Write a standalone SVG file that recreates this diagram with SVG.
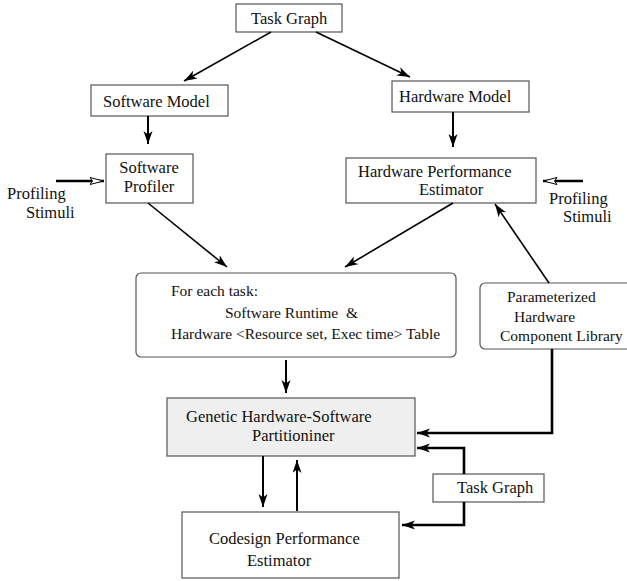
<svg xmlns="http://www.w3.org/2000/svg" width="627" height="581" viewBox="0 0 627 581">
<style>
text{font-family:"Liberation Serif","Times New Roman",serif;font-size:16.5px;fill:#111;white-space:pre}
.s{font-size:15.5px}
.box{fill:#fff;stroke:#555;stroke-width:1.2}
.gray{fill:#efefef;stroke:#555;stroke-width:1.2}
.thin{fill:none;stroke:#000;stroke-width:1.6}
.mid{fill:none;stroke:#000;stroke-width:2}
.thick{fill:none;stroke:#000;stroke-width:2.6}
</style>
<defs>
<marker id="ah" markerUnits="userSpaceOnUse" markerWidth="14" markerHeight="10" refX="13" refY="4.5" orient="auto">
<path d="M0,0 L13,4.5 L0,9 L3.5,4.5 z" fill="#000"/>
</marker>
<marker id="ao" markerUnits="userSpaceOnUse" markerWidth="16" markerHeight="10" refX="14.5" refY="4" orient="auto">
<path d="M0.5,0.5 L14,4 L0.5,7.5 L3,4 z" fill="#fff" stroke="#000" stroke-width="1"/>
</marker>
</defs>

<g id="taskgraph-top">
<rect class="box" x="236" y="4" width="106" height="28"/>
<text x="251" y="24">Task Graph</text>
</g>
<g id="software-model">
<rect class="box" x="91" y="85" width="137" height="31"/>
<text x="103" y="107">Software Model</text>
</g>
<g id="hardware-model">
<rect class="box" x="392" y="81" width="137" height="31"/>
<text x="399" y="102">Hardware Model</text>
</g>
<g id="software-profiler">
<rect class="box" x="106" y="154" width="87" height="49"/>
<text x="149" y="173" text-anchor="middle">Software</text>
<text x="149" y="192" text-anchor="middle">Profiler</text>
</g>
<g id="profiling-left">
<text x="7" y="199">Profiling</text>
<text x="26" y="218">Stimuli</text>
</g>
<g id="hw-perf-estimator">
<rect class="box" x="346" y="158" width="190" height="45"/>
<text x="358" y="177">Hardware Performance</text>
<text x="419" y="195">Estimator</text>
</g>
<g id="profiling-right">
<text x="549" y="204">Profiling</text>
<text x="563" y="222">Stimuli</text>
</g>
<g id="for-each-task">
<rect class="box" x="136" y="273" width="320" height="84" rx="5"/>
<text class="s" x="171" y="296">For each task:</text>
<text class="s" x="225" y="318">Software Runtime  &amp;</text>
<text class="s" x="171" y="339">Hardware &lt;Resource set, Exec time&gt; Table</text>
</g>
<g id="hw-component-library">
<rect class="box" x="480" y="283" width="152" height="66" rx="5"/>
<text class="s" x="507" y="302">Parameterized</text>
<text class="s" x="514" y="322">Hardware</text>
<text class="s" x="500" y="341">Component Library</text>
</g>
<g id="genetic-partitioner">
<rect class="gray" x="167" y="398" width="248" height="58"/>
<text x="186" y="422">Genetic Hardware-Software</text>
<text x="252" y="441">Partitioniner</text>
</g>
<g id="taskgraph-bottom">
<rect class="box" x="433" y="474" width="111" height="28"/>
<text x="457" y="493">Task Graph</text>
</g>
<g id="codesign-estimator">
<rect class="box" x="182" y="512" width="217" height="66"/>
<text x="209" y="544">Codesign Performance</text>
<text x="247" y="566">Estimator</text>
</g>

<g id="connectors">
<line class="thin" x1="271" y1="32" x2="184" y2="81" marker-end="url(#ah)"/>
<line class="thin" x1="316" y1="32" x2="410" y2="77" marker-end="url(#ah)"/>
<line class="mid" x1="148" y1="116" x2="148" y2="144" marker-end="url(#ah)"/>
<line class="mid" x1="453" y1="112" x2="453" y2="147" marker-end="url(#ah)"/>
<line class="thick" x1="56" y1="181" x2="104" y2="181" marker-end="url(#ao)"/>
<line class="thick" x1="583" y1="181" x2="543" y2="181" marker-end="url(#ao)"/>
<line class="thin" x1="148" y1="203" x2="227" y2="267" marker-end="url(#ah)"/>
<line class="thin" x1="453" y1="203" x2="345" y2="267" marker-end="url(#ah)"/>
<line class="thin" x1="549" y1="283" x2="495" y2="204" marker-end="url(#ah)"/>
<line class="mid" x1="286" y1="360" x2="286" y2="393" marker-end="url(#ah)"/>
<polyline class="thick" points="552,349 552,433 417,433" marker-end="url(#ah)"/>
<polyline class="thick" points="464,474 464,448 417,448" marker-end="url(#ah)"/>
<polyline class="thick" points="464,502 464,525 402,525" marker-end="url(#ah)"/>
<line class="mid" x1="263" y1="456" x2="263" y2="507" marker-end="url(#ah)"/>
<line class="mid" x1="297" y1="511" x2="297" y2="460" marker-end="url(#ah)"/>
</g>
</svg>
